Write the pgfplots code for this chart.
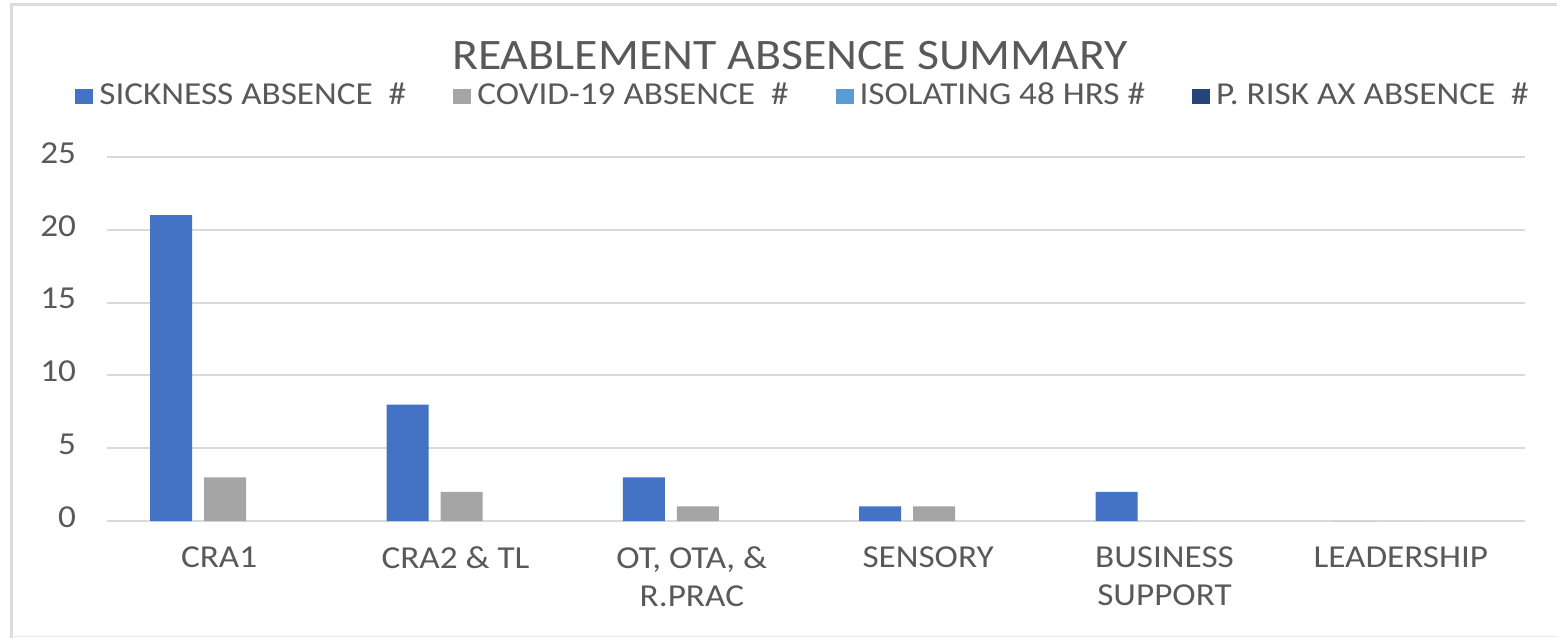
\documentclass[border=0pt]{standalone}
\usepackage{pgfplots}
\pgfplotsset{compat=1.18}
\usepackage{fontspec}
\setmainfont{Carlito}[FakeStretch=1.1]
\definecolor{txt}{HTML}{595959}
\definecolor{gridc}{HTML}{D9D9D9}
\definecolor{frame}{HTML}{DCDCDC}
\definecolor{cA}{HTML}{4472C4}
\definecolor{cB}{HTML}{A5A5A5}
\definecolor{cC}{HTML}{5B9BD5}
\definecolor{cD}{HTML}{264478}
\begin{document}
\begin{tikzpicture}[x=1pt,y=1pt]
\useasboundingbox (0,0) rectangle (778.5,318.5);
\draw[frame,line width=1.5pt] (5.75,-2) -- (5.75,316) -- (790,316);
\draw[frame!60,line width=0.5pt] (5.75,0.4) -- (790,0.4);
\node[anchor=base,text=txt,font=\fontsize{21.75}{24}\selectfont] at (395,283.5) {REABLEMENT ABSENCE SUMMARY};
\begin{axis}[
  at={(53.5pt,58pt)}, anchor=south west,
  scale only axis, width=709pt, height=182pt,
  xmin=-0.5, xmax=5.5, ymin=0, ymax=25,
  ytick={0,5,10,15,20,25},
  xtick={0,1,2,3,4,5},
  xticklabels={CRA1, CRA2 \& TL, {OT, OTA, \&\\R.PRAC}, SENSORY, {BUSINESS\\SUPPORT}, LEADERSHIP},
  axis line style={draw=none},
  major tick length=0pt,
  ymajorgrids, grid style={gridc,line width=1pt},
  /pgf/number format/assume math mode=true,
  tick label style={text=txt,font=\fontsize{16}{19}\selectfont},
  yticklabel style={xshift=-12pt,yshift=2pt},
  xticklabel style={align=center,xshift=-3pt,yshift=-9.5pt},
  ybar, bar width=21pt,
  legend columns=4,
  legend style={at={(-0.0226,1.17)},anchor=west,draw=none,fill=none,inner sep=0pt,
    font=\fontsize{16}{19}\selectfont,text=txt,
    /tikz/every odd column/.append style={column sep=1pt},
    /tikz/every even column/.append style={column sep=21.5pt}},
  legend image code/.code={\fill[#1] (0pt,-4.5pt) rectangle (9pt,3pt);},
]
\addplot[fill=cA,draw=none,bar shift=-27pt] coordinates {(0,21) (1,8) (2,3) (3,1) (4,2) (5,0)};
\addplot[fill=cB,draw=none,bar shift=0pt] coordinates {(0,3) (1,2) (2,1) (3,1) (4,0) (5,0)};
\addplot[fill=none,draw=none,bar shift=27pt,forget plot] coordinates {(0,0) (1,0) (2,0) (3,0) (4,0) (5,0)};
\addplot[fill=none,draw=none,bar shift=54pt,forget plot] coordinates {(0,0) (1,0) (2,0) (3,0) (4,0) (5,0)};
\addlegendimage{fill=cC,draw=none}
\addlegendimage{fill=cD,draw=none}
\legend{SICKNESS ABSENCE\ \ \#, COVID-19 ABSENCE\ \ \#, ISOLATING 48 HRS \#, P. RISK AX ABSENCE\ \ \#}
\end{axis}
\end{tikzpicture}
\end{document}
